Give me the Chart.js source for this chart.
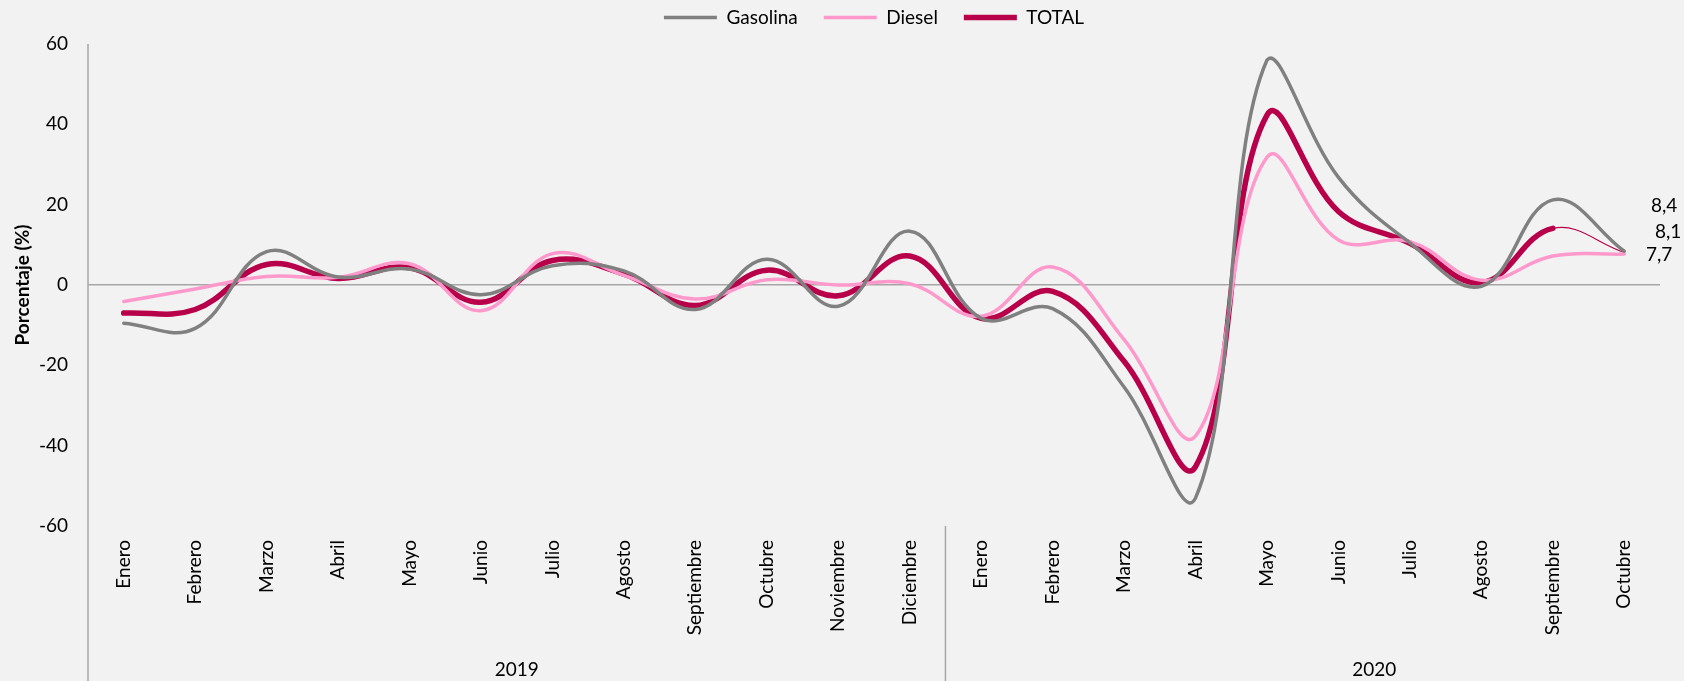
<!DOCTYPE html>
<html>
<head>
<meta charset="utf-8">
<script src="https://cdn.jsdelivr.net/npm/chart.js@4.4.1/dist/chart.umd.min.js"></script>
<style>
	html, body { margin: 0; padding: 0; background: #f2f2f2; }
	canvas { display: block; }
</style>
</head>
<body>
<canvas id="Ventas_Plot" width="1684" height="681"></canvas>
<script>

// Data (variación %)
const months = ["Enero", "Febrero", "Marzo", "Abril", "Mayo", "Junio", "Julio", "Agosto", "Septiembre", "Octubre", "Noviembre", "Diciembre",
	"Enero", "Febrero", "Marzo", "Abril", "Mayo", "Junio", "Julio", "Agosto", "Septiembre", "Octubre"];
const years = ["2019", "2020"];
const gasolina = [-9.5, -10.8, 8.3, 2.0, 4.0, -2.4, 4.8, 3.5, -6.1, 6.4, -5.3, 13.4, -8.3, -5.9, -25.4, -53.0, 56.0, 26.8, 10.5, -0.3, 21.2, 8.4];
const diesel = [-4.1, -1.0, 2.1, 1.9, 5.3, -6.4, 7.8, 2.4, -3.5, 1.3, 0.0, 0.3, -7.8, 4.5, -13.6, -37.6, 31.8, 11.2, 10.8, 1.2, 7.2, 7.7];
const total = [-7.0, -6.1, 5.1, 1.6, 4.3, -4.3, 6.1, 2.7, -5.1, 3.7, -2.7, 7.2, -8.3, -1.6, -19.0, -45.2, 42.3, 18.3, 10.4, 0.6, 14.1, 8.1];
const y_ticks = [-60, -40, -20, 0, 20, 40, 60];

const axis_color = "#a6a6a6";
const font_family = "Lato, 'Open Sans', sans-serif";

Chart.defaults.font.family = font_family;
Chart.defaults.font.size = 19;
Chart.defaults.color = "#000000";


// Axis lines below the plot, year labels and end-of-series labels
const overlay_plugin = {
	id: "overlay",
	afterDraw(chart) {
		const ctx = chart.ctx;
		const x = chart.scales.x;
		const area = chart.chartArea;
		const step = x.getPixelForValue(1) - x.getPixelForValue(0);
		const sep = (x.getPixelForValue(11) + x.getPixelForValue(12)) / 2;

		ctx.save();
		ctx.strokeStyle = axis_color;
		ctx.lineWidth = 1.5;
		ctx.beginPath();
		ctx.moveTo(area.left, area.top);
		ctx.lineTo(area.left, chart.height);
		ctx.moveTo(sep, area.bottom);
		ctx.lineTo(sep, chart.height);
		ctx.stroke();

		// Year labels (Excel centres them on a 12 month group)
		ctx.fillStyle = "#000000";
		ctx.font = "19px " + font_family;
		ctx.textAlign = "center";
		ctx.textBaseline = "middle";
		ctx.fillText(years[0], (x.getPixelForValue(0) + x.getPixelForValue(11)) / 2, 670);
		ctx.fillText(years[1], x.getPixelForValue(12) + 5.5 * step, 670);

		// Last value of each series
		const offsets = [[53, -45], [48, 1], [57, -21]];
		ctx.textAlign = "right";
		chart.data.datasets.forEach(function(ds, i) {
			const last = ds.data.length - 1;
			const px = x.getPixelForValue(last);
			const py = chart.scales.y.getPixelForValue(ds.data[last]);
			ctx.fillText(ds.data[last].toFixed(1).replace(".", ","), px + offsets[i][0], py + offsets[i][1]);
		});
		ctx.restore();
	}
};


const ventas_plot = document.getElementById("Ventas_Plot").getContext("2d");

var Ventas_Plot_Obj = new Chart(ventas_plot, {
	type: "line",
	data: {
		labels: months,
		datasets: [
			{
				label: "Gasolina",
				data: gasolina,
				borderColor: "#808080",
				backgroundColor: "#808080",
				borderWidth: 3.5,
				borderCapStyle: "round",
				tension: 0.4,
				pointRadius: 0,
				fill: false,
			},
			{
				label: "Diesel",
				data: diesel,
				borderColor: "#ff99cc",
				backgroundColor: "#ff99cc",
				borderWidth: 3.5,
				borderCapStyle: "round",
				tension: 0.4,
				pointRadius: 0,
				fill: false,
			},
			{
				label: "TOTAL",
				data: total,
				borderColor: "#b8004a",
				backgroundColor: "#b8004a",
				borderWidth: 5.5,
				borderCapStyle: "round",
				tension: 0.4,
				pointRadius: 0,
				fill: false,
				segment: {
					// last month drawn as a thin line
					borderWidth: ctx => ctx.p0DataIndex === months.length - 2 ? 1.2 : undefined,
				},
			}
		]
	},
	options: {
		responsive: false,
		animation: false,
		events: [], // No hover
		layout: {
			padding: { top: -18, right: 24, bottom: 0, left: 0 }
		},
		plugins: {
			legend: {
				display: true,
				position: "top",
				fullSize: false,  // centre over the plot area
				weight: 3000,
				labels: {
					usePointStyle: true,
					pointStyle: "line",
					pointStyleWidth: 53,
					padding: 26,
					font: { size: 19 },
				}
			},
			title: {
				// spacer between legend and plot
				display: true,
				text: "",
				padding: 0,
				font: { size: 7, lineHeight: 1 },
			},
			tooltip: { enabled: false },
		},
		scales: {
			x: {
				type: "category",
				offset: true,
				grid: { display: false, drawTicks: false },
				border: { display: false },
				ticks: {
					autoSkip: false,
					minRotation: 90,
					maxRotation: 90,
					padding: 14,
					font: { size: 19 },
				},
				afterFit: function(scale) { scale.height = 155; },
			},
			y: {
				min: -60,
				max: 60,
				afterBuildTicks: function(scale) { scale.ticks = y_ticks.map(v => ({ value: v })); },
				grid: {
					drawTicks: false,
					lineWidth: 1.5,
					color: ctx => ctx.tick && ctx.tick.value === 0 ? axis_color : "rgba(0,0,0,0)",
				},
				border: { display: false },
				ticks: {
					padding: 20,
					font: { size: 19 },
				},
				title: {
					display: true,
					text: "Porcentaje (%)",
					font: { size: 19, weight: "bold" },
					padding: { top: 11, bottom: 0 },
				},
				afterFit: function(scale) { scale.width = 88; },
			}
		}
	},
	plugins: [overlay_plugin]
});

</script>
</body>
</html>
